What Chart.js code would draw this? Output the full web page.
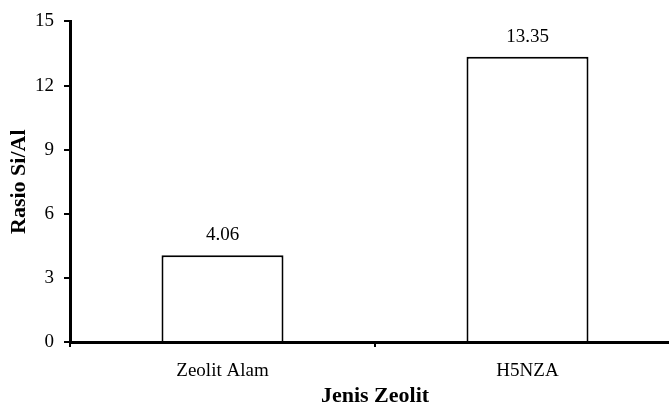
<!DOCTYPE html>
<html>
<head>
<meta charset="utf-8">
<script src="https://cdn.jsdelivr.net/npm/chart.js@4/dist/chart.umd.min.js"></script>
<style>
  html, body { margin: 0; padding: 0; background: #fff; overflow: hidden; }
  .wrap { width: 669px; height: 403px; overflow: hidden; }
  canvas { display: block; }
</style>
</head>
<body>
<div class="wrap">
  <canvas id="chart" width="690" height="403" style="width:690px;height:403px"></canvas>
</div>
<script>
const categories = ["Zeolit Alam", "H5NZA"];
const rasio = [4.06, 13.35];
const labelTeks = ["4.06", "13.35"];
const yTicks = [0, 3, 6, 9, 12, 15];

const fontFam = "'Liberation Serif', 'Times New Roman', serif";

// tulis nilai di atas batang
const nilaiPlugin = {
  id: "nilai",
  afterDatasetsDraw: function (chart) {
    const ctx = chart.ctx;
    const meta = chart.getDatasetMeta(0);
    ctx.save();
    ctx.font = "19px " + fontFam;
    ctx.fillStyle = "#000";
    ctx.textAlign = "center";
    ctx.textBaseline = "alphabetic";
    meta.data.forEach(function (bar, i) {
      ctx.fillText(labelTeks[i], bar.x, bar.y - 15);
    });
    ctx.restore();
  }
};

const ctx = document.getElementById("chart").getContext("2d");
const chart = new Chart(ctx, {
  type: "bar",
  data: {
    labels: categories,
    datasets: [{
      data: rasio,
      backgroundColor: "#fff",
      borderColor: "#000",
      borderWidth: 2,
      barPercentage: 0.4,
      categoryPercentage: 1
    }]
  },
  plugins: [nilaiPlugin],
  options: {
    responsive: false,
    animation: false,
    layout: { padding: { top: 15, right: 10, left: 0, bottom: 0 } },
    plugins: {
      legend: { display: false },
      tooltip: { enabled: false }
    },
    scales: {
      x: {
        afterFit: function (scale) { scale.height = 61; },
        border: { color: "#000", width: 3 },
        grid: {
          drawOnChartArea: false,
          color: "#000",
          lineWidth: 2,
          tickLength: 5
        },
        ticks: {
          color: "#000",
          font: { family: fontFam, size: 19 },
          padding: 13
        },
        title: {
          display: true,
          text: "Jenis Zeolit",
          color: "#000",
          font: { family: fontFam, size: 22, weight: "bold", lineHeight: 0.6 },
          padding: { top: 0, bottom: 0 }
        }
      },
      y: {
        min: 0,
        max: 15,
        afterFit: function (scale) { scale.width = 70; },
        afterBuildTicks: function (scale) {
          scale.ticks = yTicks.map(function (v) { return { value: v }; });
        },
        border: { color: "#000", width: 3 },
        grid: {
          drawOnChartArea: false,
          color: "#000",
          lineWidth: 2,
          tickLength: 6
        },
        ticks: {
          color: "#000",
          font: { family: fontFam, size: 19 },
          padding: 10
        },
        title: {
          display: true,
          text: "Rasio Si/Al",
          color: "#000",
          font: { family: fontFam, size: 22, weight: "bold" },
          padding: { top: 6, bottom: 0 }
        }
      }
    }
  }
});
</script>
</body>
</html>
